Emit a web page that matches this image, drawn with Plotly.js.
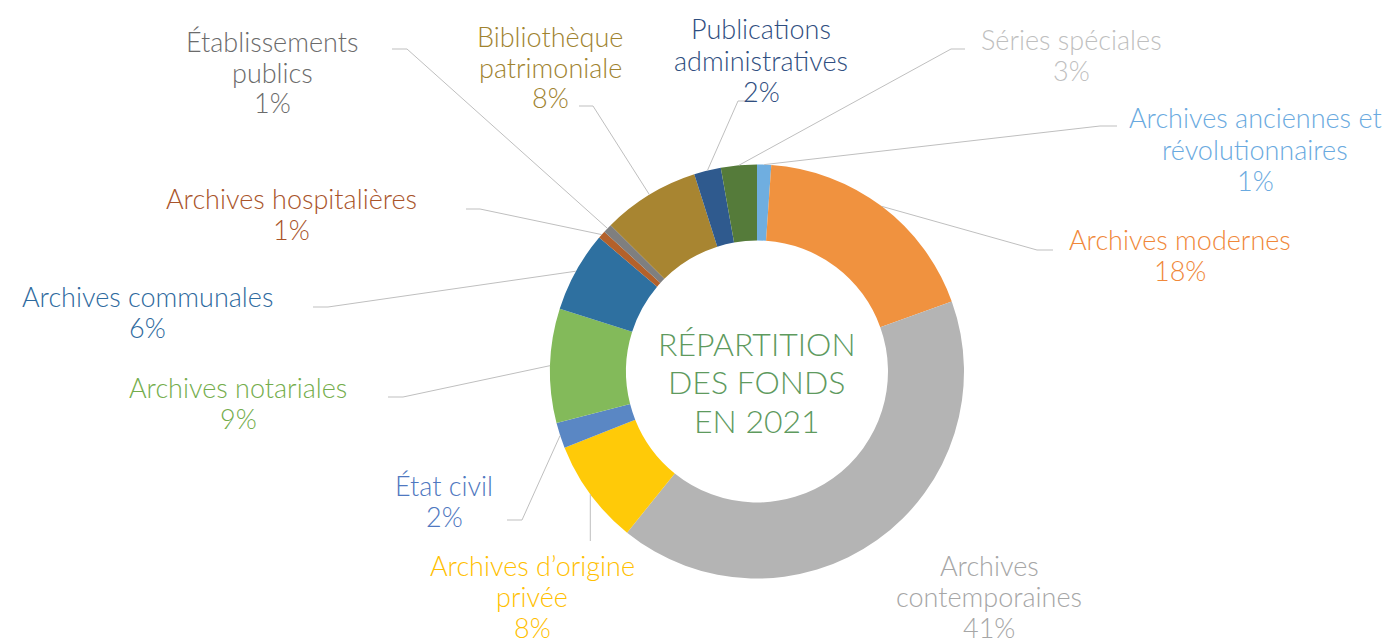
<!DOCTYPE html>
<html>
<head>
<meta charset="utf-8">
<script src="https://cdn.plot.ly/plotly-3.0.1.min.js"></script>
<style>
  html, body { margin: 0; padding: 0; background: #ffffff; }
  #chart { width: 1389px; height: 640px; }
</style>
</head>
<body>
<div id="chart"></div>
<script>
// ---- data ----
const categories = [
  "Archives anciennes et révolutionnaires",
  "Archives modernes",
  "Archives contemporaines",
  "Archives d’origine privée",
  "État civil",
  "Archives notariales",
  "Archives communales",
  "Archives hospitalières",
  "Établissements publics",
  "Bibliothèque patrimoniale",
  "Publications administratives",
  "Séries spéciales"
];
const displayLabels = [
  ["Archives anciennes et", "révolutionnaires"],
  ["Archives modernes"],
  ["Archives", "contemporaines"],
  ["Archives d’origine", "privée"],
  ["État civil"],
  ["Archives notariales"],
  ["Archives communales"],
  ["Archives hospitalières"],
  ["Établissements", "publics"],
  ["Bibliothèque", "patrimoniale"],
  ["Publications", "administratives"],
  ["Séries spéciales"]
];
const shares = [1.1, 18.4, 41.3, 8.2, 2.0, 8.9, 6.3, 0.6, 0.7, 7.6, 2.1, 2.8];
const centerTitle = ["RÉPARTITION", "DES FONDS", "EN 2021"];

// ---- styles ----
const sliceColors = ["#6FAEE0", "#F0923F", "#B4B4B4", "#FFCA08", "#5A87C4", "#83BA5A",
                     "#2E70A0", "#B3612B", "#7F7F7F", "#A88531", "#2F5A8E", "#557B3A"];
const labelColors = ["#6AAAE0", "#F0883A", "#A6A6A6", "#FFC000", "#4F78C0", "#74AD4C",
                     "#2E6A9E", "#A9542A", "#6B6B6B", "#A0832F", "#2F4E80", "#BFBFBF"];
const FONT = 'Lato, sans-serif';
const labelSize = 27, lineGap = 31;
const titleSize = 32, titleGap = 38.5;

// ---- layout geometry (pixels) ----
const W = 1389, H = 640;
const cx = 757, cy = 371.5, R = 207, Rin = 131;
// label block centre and leader elbow / end points
const labelPos = [
  {tx: 1255, ty: 149, ex: 1100, ey: 126, fx: 1117, fy: 126},
  {tx: 1180, ty: 255, ex: 1037, ey: 250, fx: 1053, fy: 250},
  {tx: 989,  ty: 596, ex: null},
  {tx: 532,  ty: 596, ex: 'v', ey: 541},
  {tx: 444,  ty: 501, ex: 522, ey: 520, fx: 507, fy: 520},
  {tx: 238,  ty: 403, ex: 403, ey: 397, fx: 388, fy: 397},
  {tx: 147,  ty: 312, ex: 328, ey: 307, fx: 313, fy: 307},
  {tx: 291,  ty: 214, ex: 480, ey: 209, fx: 466, fy: 209},
  {tx: 272,  ty: 72,  ex: 407, ey: 49,  fx: 392, fy: 49},
  {tx: 550,  ty: 67,  ex: 593, ey: 106, fx: 579, fy: 106},
  {tx: 761,  ty: 60,  ex: 738, ey: 101, fx: 754, fy: 101},
  {tx: 1071, ty: 55,  ex: 951, ey: 49,  fx: 965, fy: 49}
];

const px = x => x / W;
const py = y => 1 - y / H;

const total = shares.reduce((a, b) => a + b, 0);

const trace = {
  type: 'pie',
  values: shares,
  labels: categories,
  sort: false,
  direction: 'clockwise',
  rotation: 0,
  hole: Rin / R,
  textinfo: 'none',
  hoverinfo: 'label+percent',
  marker: { colors: sliceColors, line: { width: 0 } },
  domain: { x: [px(cx - R), px(cx + R)], y: [py(cy + R), py(cy - R)] },
  showlegend: false
};

const annotations = [];
const shapes = [];

function addLines(lines, x, yc, gap, font) {
  const n = lines.length;
  lines.forEach((t, k) => {
    annotations.push({
      xref: 'paper', yref: 'paper',
      x: px(x), y: py(yc + (k - (n - 1) / 2) * gap),
      xanchor: 'center', yanchor: 'middle',
      text: t, showarrow: false, align: 'center',
      font: font
    });
  });
}

let cum = 0;
shares.forEach((v, i) => {
  const mid = (cum + v / 2) / total;
  cum += v;
  const th = 2 * Math.PI * mid;
  const rx = cx + R * Math.sin(th);
  const ry = cy - R * Math.cos(th);
  const p = labelPos[i];
  const pct = Math.round(v / total * 100) + '%';
  addLines(displayLabels[i].concat([pct]), p.tx, p.ty, lineGap,
           { family: FONT, size: labelSize, weight: 300, color: labelColors[i] });
  if (p.ex === null) return;
  let path;
  if (p.ex === 'v') {
    path = `M ${px(rx)} ${py(ry)} L ${px(rx)} ${py(p.ey)}`;
  } else {
    path = `M ${px(rx)} ${py(ry)} L ${px(p.ex)} ${py(p.ey)} L ${px(p.fx)} ${py(p.fy)}`;
  }
  shapes.push({
    type: 'path', xref: 'paper', yref: 'paper', path: path,
    line: { color: '#BFBFBF', width: 1 }
  });
});

addLines(centerTitle, cx, 381.5, titleGap,
         { family: FONT, size: titleSize, weight: 300, color: '#5E9A5E' });

const layout = {
  width: W, height: H,
  margin: { l: 0, r: 0, t: 0, b: 0 },
  paper_bgcolor: '#ffffff',
  plot_bgcolor: '#ffffff',
  annotations: annotations,
  shapes: shapes,
  showlegend: false
};

Plotly.newPlot('chart', [trace], layout, { displayModeBar: false, staticPlot: true });
</script>
</body>
</html>
